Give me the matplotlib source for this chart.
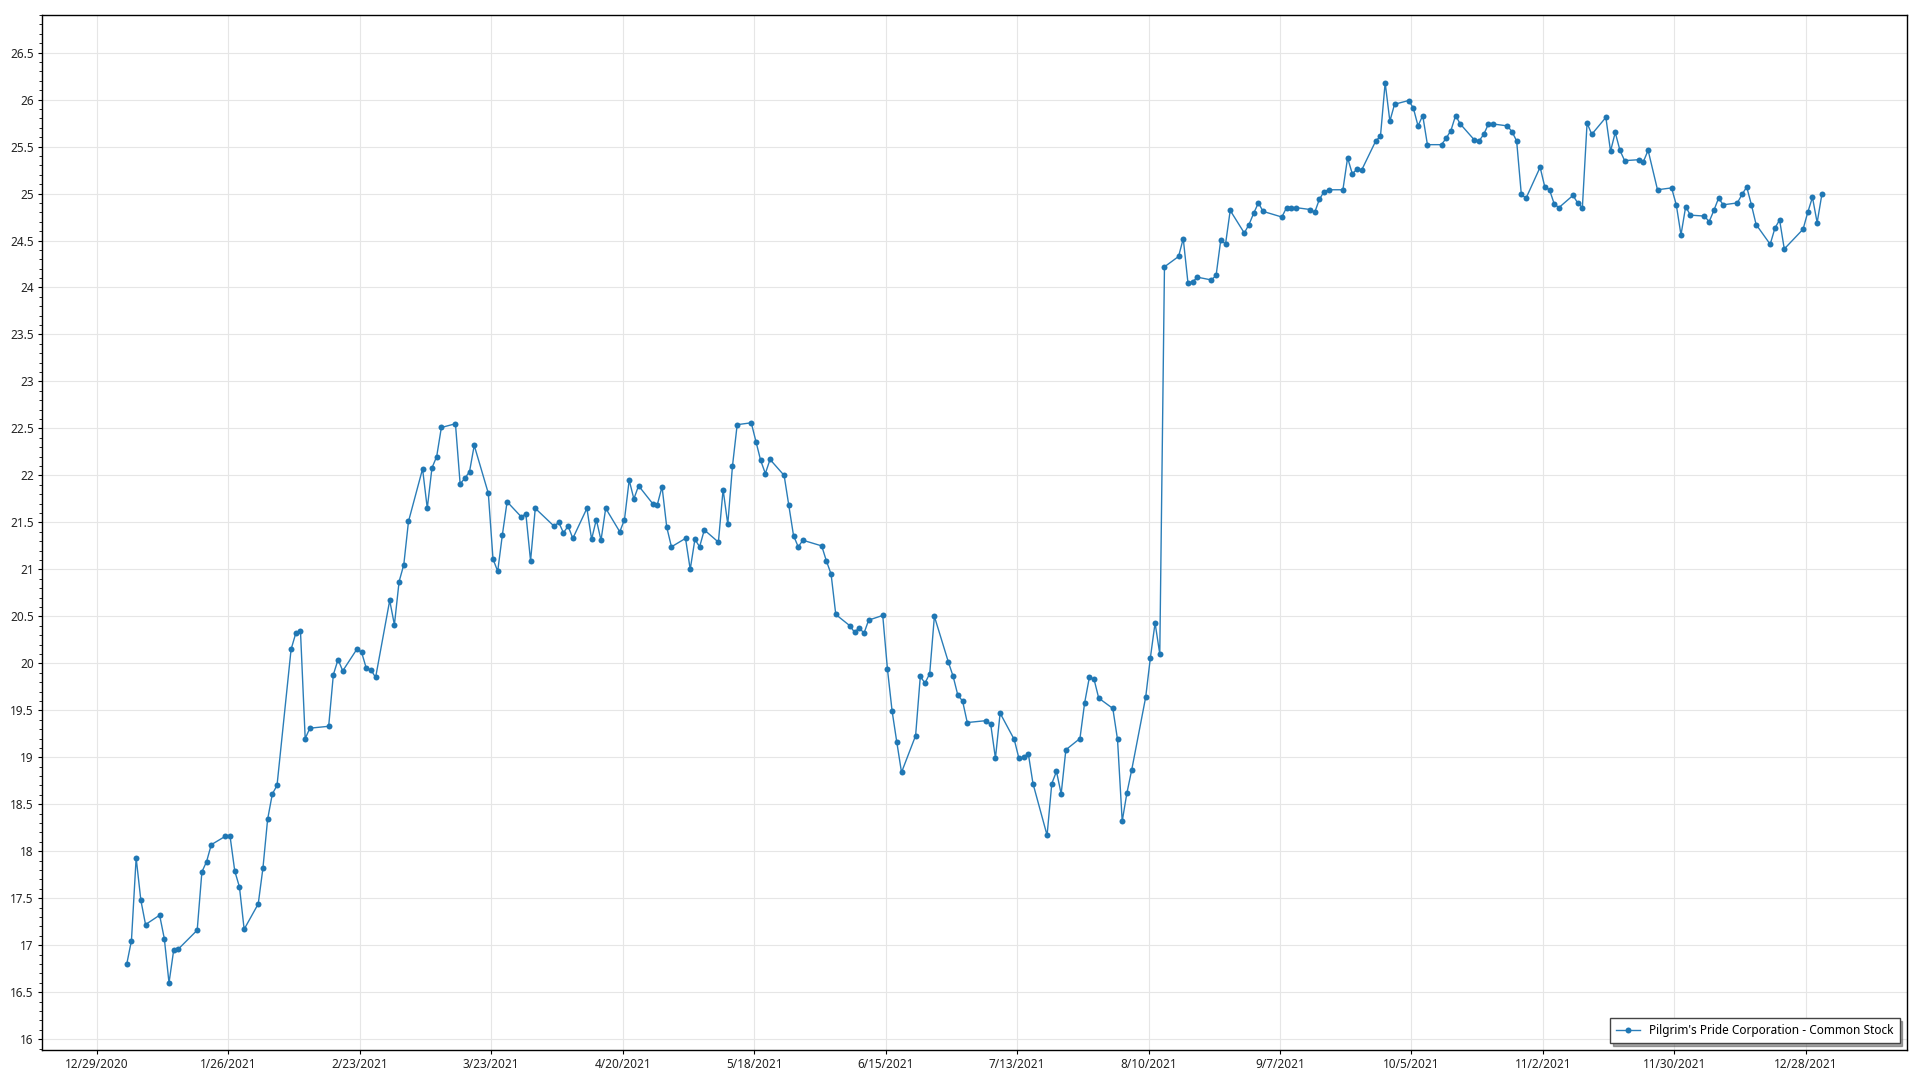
import numpy as np
import pandas as pd
import matplotlib
matplotlib.use("Agg")
from matplotlib import pyplot as plt
import matplotlib.dates as mdates
from matplotlib.ticker import MultipleLocator, FuncFormatter

# daily close, 2021 trading days (MM-DD)
days = [
    "01-04", "01-05", "01-06", "01-07", "01-08", "01-11", "01-12", "01-13", "01-14", "01-15",
    "01-19", "01-20", "01-21", "01-22", "01-25", "01-26", "01-27", "01-28", "01-29",
    "02-01", "02-02", "02-03", "02-04", "02-05", "02-08", "02-09", "02-10", "02-11", "02-12",
    "02-16", "02-17", "02-18", "02-19", "02-22", "02-23", "02-24", "02-25", "02-26",
    "03-01", "03-02", "03-03", "03-04", "03-05", "03-08", "03-09", "03-10", "03-11", "03-12",
    "03-15", "03-16", "03-17", "03-18", "03-19", "03-22", "03-23", "03-24", "03-25", "03-26",
    "03-29", "03-30", "03-31",
    "04-01", "04-05", "04-06", "04-07", "04-08", "04-09", "04-12", "04-13", "04-14", "04-15",
    "04-16", "04-19", "04-20", "04-21", "04-22", "04-23", "04-26", "04-27", "04-28", "04-29",
    "04-30",
    "05-03", "05-04", "05-05", "05-06", "05-07", "05-10", "05-11", "05-12", "05-13", "05-14",
    "05-17", "05-18", "05-19", "05-20", "05-21", "05-24", "05-25", "05-26", "05-27", "05-28",
    "06-01", "06-02", "06-03", "06-04", "06-07", "06-08", "06-09", "06-10", "06-11", "06-14",
    "06-15", "06-16", "06-17", "06-18", "06-21", "06-22", "06-23", "06-24", "06-25", "06-28",
    "06-29", "06-30",
    "07-01", "07-02", "07-06", "07-07", "07-08", "07-09", "07-12", "07-13", "07-14", "07-15",
    "07-16", "07-19", "07-20", "07-21", "07-22", "07-23", "07-26", "07-27", "07-28", "07-29",
    "07-30",
    "08-02", "08-03", "08-04", "08-05", "08-06", "08-09", "08-10", "08-11", "08-12", "08-13",
    "08-16", "08-17", "08-18", "08-19", "08-20", "08-23", "08-24", "08-25", "08-26", "08-27",
    "08-30", "08-31",
    "09-01", "09-02", "09-03", "09-07", "09-08", "09-09", "09-10", "09-13", "09-14", "09-15",
    "09-16", "09-17", "09-20", "09-21", "09-22", "09-23", "09-24", "09-27", "09-28", "09-29",
    "09-30",
    "10-01", "10-04", "10-05", "10-06", "10-07", "10-08", "10-11", "10-12", "10-13", "10-14",
    "10-15", "10-18", "10-19", "10-20", "10-21", "10-22", "10-25", "10-26", "10-27", "10-28",
    "10-29",
    "11-01", "11-02", "11-03", "11-04", "11-05", "11-08", "11-09", "11-10", "11-11", "11-12",
    "11-15", "11-16", "11-17", "11-18", "11-19", "11-22", "11-23", "11-24", "11-26", "11-29",
    "11-30",
    "12-01", "12-02", "12-03", "12-06", "12-07", "12-08", "12-09", "12-10", "12-13", "12-14",
    "12-15", "12-16", "12-17", "12-20", "12-21", "12-22", "12-23", "12-27", "12-28", "12-29",
    "12-30", "12-31",
]

close = [
    16.80, 17.05, 17.93, 17.48, 17.22, 17.32, 17.07, 16.60, 16.95, 16.96,
    17.16, 17.78, 17.89, 18.07, 18.16, 18.16, 17.79, 17.62, 17.17,
    17.44, 17.82, 18.34, 18.61, 18.70, 20.15, 20.32, 20.34, 19.20, 19.31,
    19.33, 19.88, 20.04, 19.92, 20.15, 20.12, 19.95, 19.93, 19.85,
    20.67, 20.41, 20.87, 21.05, 21.51, 22.07, 21.65, 22.08, 22.20, 22.51,
    22.55, 21.91, 21.97, 22.04, 22.32, 21.81, 21.11, 20.98, 21.37, 21.72,
    21.56, 21.59, 21.09,
    21.65, 21.46, 21.50, 21.39, 21.46, 21.33, 21.65, 21.32, 21.53, 21.31,
    21.65, 21.40, 21.53, 21.95, 21.75, 21.89, 21.70, 21.69, 21.88, 21.45,
    21.24,
    21.33, 21.00, 21.32, 21.24, 21.42, 21.29, 21.85, 21.48, 22.10, 22.54,
    22.56, 22.36, 22.16, 22.02, 22.17, 22.00, 21.68, 21.36, 21.24, 21.31,
    21.25, 21.09, 20.95, 20.52, 20.40, 20.33, 20.38, 20.32, 20.46, 20.51,
    19.94, 19.49, 19.16, 18.84, 19.23, 19.86, 19.79, 19.89, 20.50, 20.01,
    19.86, 19.66,
    19.60, 19.37, 19.39, 19.35, 18.99, 19.47, 19.19, 18.99, 19.00, 19.04,
    18.72, 18.17, 18.72, 18.85, 18.61, 19.08, 19.20, 19.58, 19.85, 19.83,
    19.63,
    19.52, 19.19, 18.32, 18.62, 18.86, 19.64, 20.06, 20.43, 20.10, 24.22,
    24.33, 24.52, 24.05, 24.06, 24.11, 24.08, 24.13, 24.51, 24.46, 24.82,
    24.58, 24.67,
    24.79, 24.90, 24.81, 24.75, 24.85, 24.85, 24.85, 24.83, 24.80, 24.94,
    25.02, 25.04, 25.04, 25.38, 25.21, 25.26, 25.25, 25.56, 25.61, 26.18,
    25.77,
    25.95, 25.99, 25.91, 25.72, 25.83, 25.52, 25.52, 25.59, 25.67, 25.83,
    25.74, 25.57, 25.56, 25.63, 25.74, 25.74, 25.72, 25.66, 25.56, 24.99,
    24.95,
    25.28, 25.07, 25.04, 24.89, 24.85, 24.98, 24.90, 24.85, 25.75, 25.63,
    25.81, 25.45, 25.65, 25.46, 25.35, 25.36, 25.34, 25.46, 25.04, 25.06,
    24.88,
    24.56, 24.86, 24.77, 24.76, 24.70, 24.82, 24.95, 24.88, 24.90, 24.99,
    25.07, 24.88, 24.67, 24.46, 24.63, 24.72, 24.41, 24.62, 24.80, 24.96,
    24.69, 24.99,
]

series_name = "Pilgrim's Pride Corporation - Common Stock"

# quotes stamped at market open
t = pd.to_datetime(["2021-" + d for d in days]) + pd.Timedelta(hours=9, minutes=30)

plt.rcParams['font.family'] = ['Noto Sans', 'DejaVu Sans']
plt.rcParams['font.size'] = 8.5

fig = plt.figure(figsize=(19.2, 10.8), dpi=100)
ax = fig.add_axes([42 / 1920, 1 - 1050 / 1080, (1906.6 - 42) / 1920, (1050 - 15) / 1080])

ax.plot(t, close, color='#2a7db8', linewidth=1.0, marker='o', markersize=4.3,
        markerfacecolor='#1f77b4', markeredgewidth=0, label=series_name)

ax.set_ylim(15.885, 26.9)
ax.yaxis.set_major_locator(MultipleLocator(0.5))
ax.yaxis.set_minor_locator(MultipleLocator(0.1))
ax.yaxis.set_major_formatter(FuncFormatter(lambda v, p: f"{v:g}"))

xticks = pd.date_range("2020-12-29", "2021-12-28", freq="28D")
ax.set_xticks(mdates.date2num(xticks))
ax.xaxis.set_major_formatter(FuncFormatter(
    lambda v, p: "{d.month}/{d.day}/{d.year}".format(d=mdates.num2date(v))))

ax.grid(True, color='#e6e6e6', linewidth=0.8)
ax.set_axisbelow(True)
for s in ax.spines.values():
    s.set_color('black')
    s.set_linewidth(1.0)
ax.tick_params(axis='both', which='major', length=3, width=0.8, colors='black',
               labelcolor='#222222', pad=3)
ax.tick_params(axis='y', which='minor', length=2, width=0.6, colors='black')

leg = ax.legend(loc='lower right', fancybox=False, shadow=True, framealpha=1,
                edgecolor='#444444', borderaxespad=0.6, handlelength=2.0,
                borderpad=0.5, fontsize=8.5)
leg.get_frame().set_linewidth(1.0)

fig.savefig("out.png", dpi=100)
